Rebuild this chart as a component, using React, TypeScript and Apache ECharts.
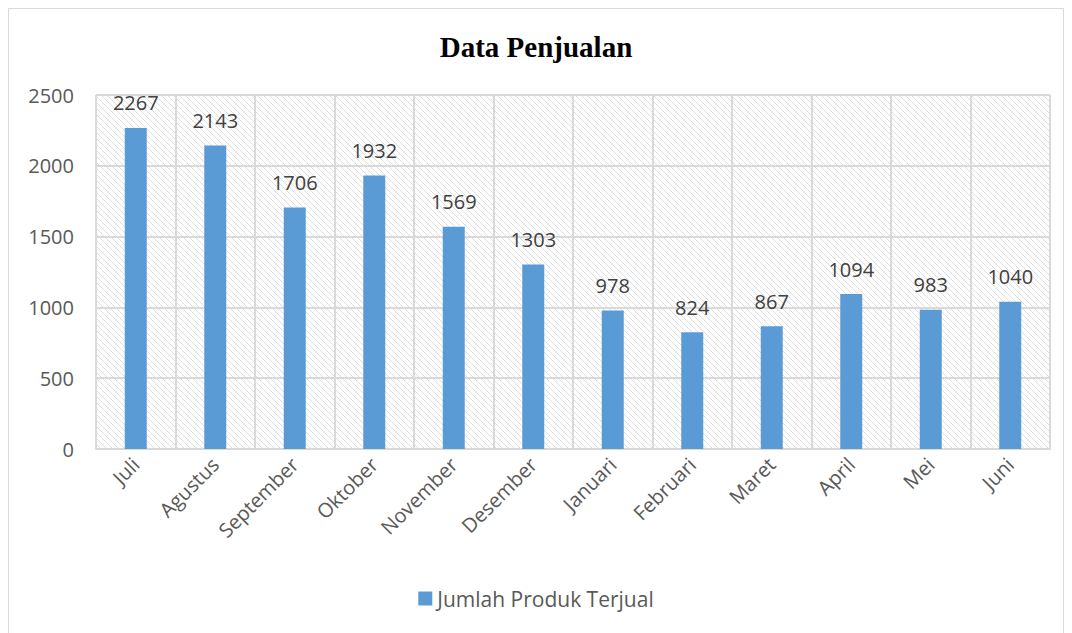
import React, { useEffect, useRef } from "react";
import * as echarts from "echarts";

const categories = ["Juli", "Agustus", "September", "Oktober", "November", "Desember", "Januari", "Februari", "Maret", "April", "Mei", "Juni"];
const values = [2267, 2143, 1706, 1932, 1569, 1303, 978, 824, 867, 1094, 983, 1040];
const seriesName = "Jumlah Produk Terjual";
const titleText = "Data Penjualan";

function makeHatch(): string {
  const c = document.createElement("canvas");
  const s = 6;
  c.width = s;
  c.height = s;
  const ctx = c.getContext("2d")!;
  ctx.fillStyle = "#ffffff";
  ctx.fillRect(0, 0, s, s);
  ctx.strokeStyle = "#dedede";
  ctx.lineWidth = 1;
  ctx.beginPath();
  ctx.moveTo(-1, -1);
  ctx.lineTo(s + 1, s + 1);
  ctx.moveTo(-1, s - 1);
  ctx.lineTo(1, s + 1);
  ctx.moveTo(s - 1, -1);
  ctx.lineTo(s + 1, 1);
  ctx.stroke();
  return c.toDataURL();
}

export default function App() {
  const ref = useRef<HTMLDivElement>(null);
  useEffect(() => {
    if (!ref.current) return;
    const chart = echarts.init(ref.current, undefined, { renderer: "svg" });
    const hatch = makeHatch();
    chart.setOption({
      animation: false,
      backgroundColor: "#ffffff",
      title: {
        text: titleText,
        left: "center",
        top: 27,
        textStyle: { fontFamily: "Liberation Serif", fontWeight: "bold", fontSize: 29, color: "#000000" },
      },
      graphic: [
        {
          type: "rect",
          shape: { x: 8.5, y: 8.5, width: 1055, height: 640 },
          style: { fill: "none", stroke: "#d9d9d9", lineWidth: 1 },
          silent: true,
          z: -1,
        },
      ],
      legend: {
        bottom: 19,
        left: "center",
        icon: "rect",
        itemWidth: 14,
        itemHeight: 14,
        itemGap: 4,
        textStyle: { fontFamily: "Open Sans", fontSize: 21, color: "#595959", padding: [0, 0, 0, 0] },
        data: [seriesName],
      },
      grid: {
        left: 96,
        right: 22,
        top: 95,
        bottom: 184,
        show: true,
        borderWidth: 0,
        backgroundColor: { image: hatch, repeat: "repeat" },
      },
      xAxis: {
        type: "category",
        data: categories,
        axisLine: { show: true, lineStyle: { color: "#d9d9d9", width: 2 } },
        axisTick: { show: false },
        splitLine: { show: true, interval: 0, lineStyle: { color: "#d9d9d9", width: 2 } },
        axisLabel: {
          interval: 0,
          rotate: 45,
          margin: 12,
          fontFamily: "Open Sans",
          fontSize: 20,
          color: "#595959",
        },
      },
      yAxis: {
        type: "value",
        min: 0,
        max: 2500,
        interval: 500,
        axisLine: { show: false },
        axisTick: { show: false },
        splitLine: { show: true, lineStyle: { color: "#d9d9d9", width: 2 } },
        axisLabel: { fontFamily: "Open Sans", fontSize: 20, color: "#595959", margin: 22, formatter: (v: number) => String(v) },
      },
      series: [
        {
          name: seriesName,
          type: "bar",
          data: values,
          barWidth: 22,
          itemStyle: { color: "#5b9bd5" },
          label: {
            show: true,
            position: "top",
            distance: 15,
            fontFamily: "Open Sans",
            fontSize: 20,
            color: "#404040",
          },
        },
      ],
    });
    return () => chart.dispose();
  }, []);
  return <div ref={ref} style={{ position: "fixed", left: 0, top: 0, width: 1072, height: 633 }} />;
}
